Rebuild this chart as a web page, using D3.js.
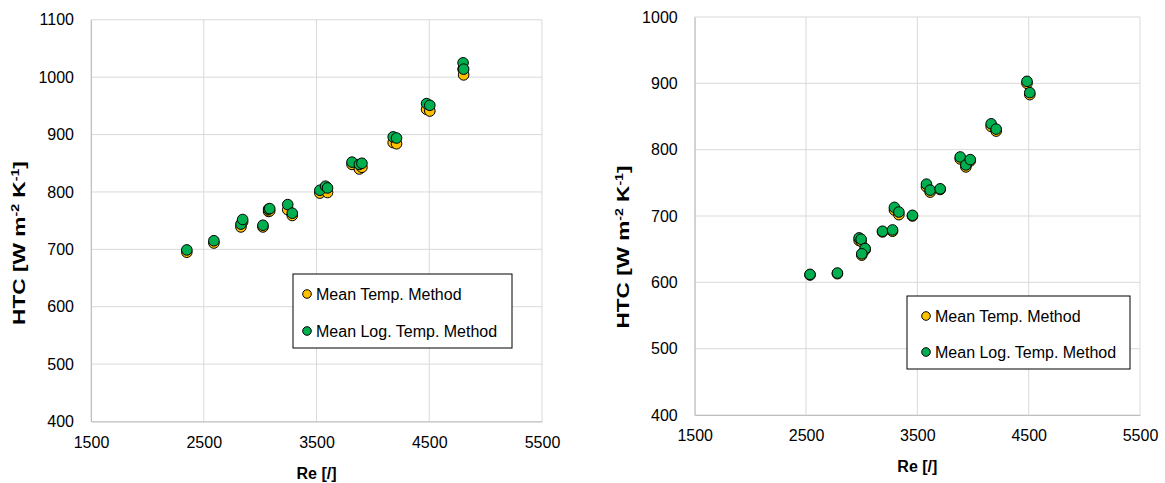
<!DOCTYPE html>
<html>
<head>
<meta charset="utf-8">
<script src="https://cdn.jsdelivr.net/npm/d3@7"></script>
<style>
  body { margin: 0; background: #fff; }
  svg { display: block; font-family: "Liberation Sans", Arial, sans-serif; }
</style>
</head>
<body>
<svg id="chart" width="1165" height="483"></svg>
<script>
// Left panel: Reynolds number and heat transfer coefficient per method
const reLeft = [2350, 2590, 2830, 2845, 3025, 3075, 3085, 3245, 3285, 3530, 3580, 3598, 3815, 3880, 3903, 4180, 4210, 4476, 4505, 4800, 4805];
const htcMeanLeft = [695, 711, 739, 748, 739, 766, 767, 769, 759, 798, 803, 799, 848, 840, 843, 886, 884, 944, 941, 1014, 1004];
const htcLogLeft  = [699, 715, 744, 752, 742, 770, 771, 778, 763, 803, 810, 807, 852, 848, 850, 896, 894, 954, 951, 1025, 1014];

// Right panel
const reRight = [2536, 2782, 2977, 2995, 3031, 3001, 3187, 3277, 3294, 3334, 3456, 3582, 3615, 3705, 3885, 3936, 3975, 4163, 4208, 4485, 4510];
const htcMeanRight = [611, 613, 663, 662, 649, 641, 676, 677, 709, 702, 700, 744, 736, 740, 786, 774, 783, 835, 828, 900, 883];
const htcLogRight  = [612, 614, 667, 665, 651, 643, 677, 679, 713, 706, 701, 748, 739, 741, 789, 777, 785, 839, 831, 903, 886];

const xTicks = [1500, 2500, 3500, 4500, 5500];
const yTicksLeft = [400, 500, 600, 700, 800, 900, 1000, 1100];
const yTicksRight = [400, 500, 600, 700, 800, 900, 1000];
const seriesNames = ["Mean Temp. Method", "Mean Log. Temp. Method"];
const seriesColors = ["#FFC000", "#00B050"];

const FONT = "Liberation Sans, Arial, sans-serif";
const svg = d3.select("#chart");

function panel(cfg) {
  const x = d3.scaleLinear().domain([1500, 5500]).range([cfg.x0, cfg.x1]);
  const y = d3.scaleLinear().domain(cfg.yDomain).range([cfg.y1, cfg.y0]);
  const g = svg.append("g");

  // gridlines
  g.append("g").selectAll("line").data(cfg.yTicks).join("line")
    .attr("x1", cfg.x0).attr("x2", cfg.x1)
    .attr("y1", d => y(d)).attr("y2", d => y(d))
    .attr("stroke", "#d9d9d9").attr("stroke-width", 1);
  g.append("g").selectAll("line").data(xTicks).join("line")
    .attr("y1", cfg.y0).attr("y2", cfg.y1)
    .attr("x1", d => x(d)).attr("x2", d => x(d))
    .attr("stroke", "#d9d9d9").attr("stroke-width", 1);

  // axes
  const xAxis = d3.axisBottom(x).tickValues(xTicks).tickSize(0).tickPadding(cfg.xPad).tickFormat(d3.format("d"));
  const xg = g.append("g").attr("transform", `translate(0,${cfg.y1})`).call(xAxis);
  xg.select(".domain").attr("stroke", "#bfbfbf");
  xg.selectAll("text").attr("font-size", 16).attr("fill", "#000").attr("font-family", FONT);

  const yAxis = d3.axisLeft(y).tickValues(cfg.yTicks).tickSize(0).tickPadding(17).tickFormat(d3.format("d"));
  const yg = g.append("g").attr("transform", `translate(${cfg.x0},0)`).call(yAxis);
  yg.select(".domain").attr("stroke", "#bfbfbf");
  yg.selectAll("text").attr("font-size", 16).attr("fill", "#000").attr("font-family", FONT);

  // axis titles
  g.append("text")
    .attr("x", (cfg.x0 + cfg.x1) / 2).attr("y", cfg.xTitleY)
    .attr("text-anchor", "middle").attr("font-size", 16).attr("font-weight", "bold")
    .text("Re [/]");

  const yt = g.append("text")
    .attr("text-anchor", "middle").attr("font-size", 16).attr("font-weight", "bold");
  yt.append("tspan").text("HTC [W m");
  yt.append("tspan").attr("font-size", 10).attr("dy", -6).text("-2");
  yt.append("tspan").attr("dy", 6).text(" K");
  yt.append("tspan").attr("font-size", 10).attr("dy", -6).text("-1");
  yt.append("tspan").attr("dy", 6).text("]");
  // rotated title is drawn elongated along the axis to its full span
  const natural = yt.node().getComputedTextLength();
  const stretch = cfg.yTitleLen / natural;
  yt.attr("transform", `translate(${cfg.yTitleX},${cfg.yTitleY}) rotate(-90) scale(${stretch},1)`);

  // markers: mean temperature first, log-mean on top
  [cfg.mean, cfg.log].forEach((vals, si) => {
    g.append("g").selectAll("circle").data(cfg.re.map((r, i) => [r, vals[i]])).join("circle")
      .attr("cx", d => x(d[0])).attr("cy", d => y(d[1])).attr("r", 5.3)
      .attr("fill", seriesColors[si]).attr("stroke", "#000").attr("stroke-width", 1);
  });

  // legend
  const lg = g.append("g");
  lg.append("rect").attr("x", cfg.leg.x).attr("y", cfg.leg.y)
    .attr("width", cfg.leg.w).attr("height", cfg.leg.h)
    .attr("fill", "#fff").attr("stroke", "#000").attr("stroke-width", 1);
  seriesNames.forEach((name, i) => {
    const cy = cfg.leg.rows[i];
    lg.append("circle").attr("cx", cfg.leg.mx).attr("cy", cy).attr("r", 4.3)
      .attr("fill", seriesColors[i]).attr("stroke", "#000").attr("stroke-width", 1);
    lg.append("text").attr("x", cfg.leg.mx + 9).attr("y", cy + 5.5)
      .attr("font-size", 16).text(name);
  });
}

panel({
  x0: 91, x1: 542, y0: 19.8, y1: 421.5, yDomain: [400, 1100], yTicks: yTicksLeft,
  re: reLeft, mean: htcMeanLeft, log: htcLogLeft,
  xPad: 15, xTitleY: 479, yTitleX: 25, yTitleY: 243, yTitleLen: 164,
  leg: { x: 293, y: 274, w: 219, h: 74, mx: 307, rows: [294, 331] }
});

panel({
  x0: 694.7, x1: 1140, y0: 17, y1: 415, yDomain: [400, 1000], yTicks: yTicksRight,
  re: reRight, mean: htcMeanRight, log: htcLogRight,
  xPad: 15, xTitleY: 472, yTitleX: 629, yTitleY: 247, yTitleLen: 163,
  leg: { x: 907, y: 296, w: 223, h: 73, mx: 926, rows: [316, 352] }
});
</script>
</body>
</html>
